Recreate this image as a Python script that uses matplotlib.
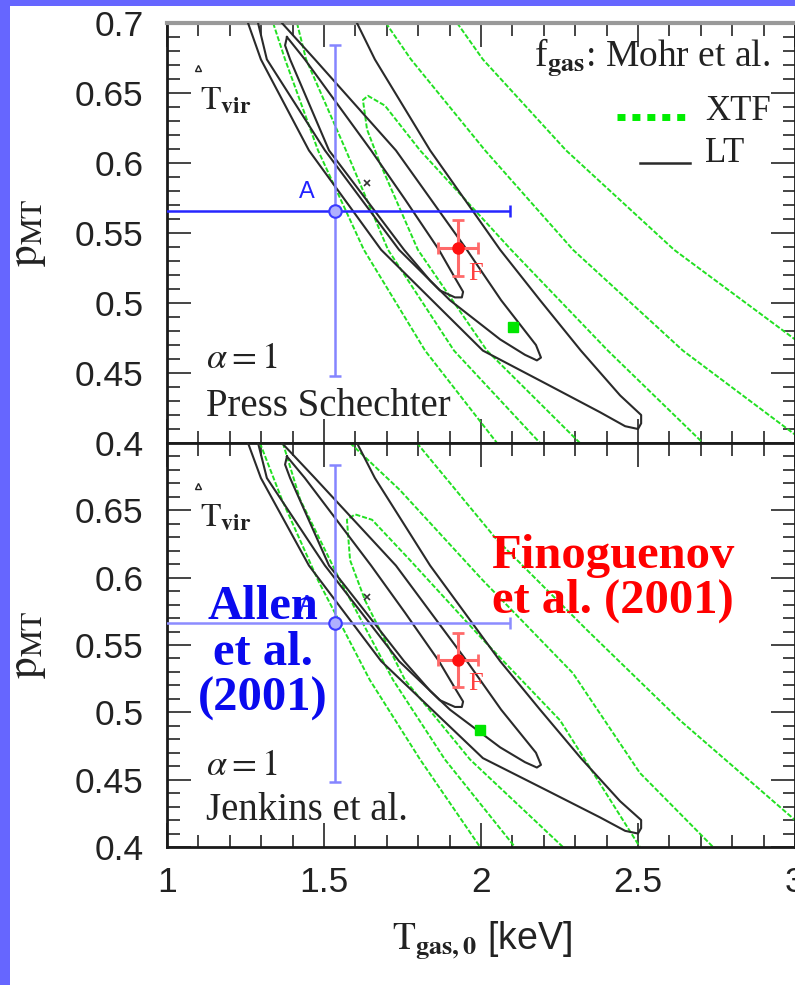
import matplotlib
matplotlib.use("Agg")
import matplotlib.pyplot as plt
from matplotlib.ticker import FixedLocator, FixedFormatter, MultipleLocator
from matplotlib.patches import Rectangle

plt.rcParams["mathtext.fontset"] = "stix"
plt.rcParams["font.family"] = ["Liberation Sans", "DejaVu Sans"]

# ---------------------------------------------------------------------------
# data  (T_gas,0 in keV, p_MT)
# ---------------------------------------------------------------------------
x_ticks = [1.0, 1.5, 2.0, 2.5, 3.0]
x_labels = ["1", "1.5", "2", "2.5", "3"]
y_ticks = [0.4, 0.45, 0.5, 0.55, 0.6, 0.65, 0.7]
y_labels_top = ["0.4", "0.45", "0.5", "0.55", "0.6", "0.65", "0.7"]
y_labels_bot = ["0.4", "0.45", "0.5", "0.55", "0.6", "0.65", ""]

# LT likelihood contours (same in both panels)
lt_outer_T = [1.258, 1.299, 1.452, 1.682, 1.844, 2.006, 2.210, 2.379, 2.459, 2.500,
              2.510, 2.510, 2.443, 2.318, 2.188, 2.061, 1.838, 1.662, 1.605]
lt_outer_p = [0.700, 0.674, 0.609, 0.538, 0.502, 0.466, 0.442, 0.422, 0.412, 0.410,
              0.414, 0.420, 0.434, 0.466, 0.502, 0.538, 0.609, 0.674, 0.700]
lt_mid_T = [1.290, 1.318, 1.503, 1.739, 1.901, 2.061, 2.140, 2.178, 2.191, 2.175,
            2.064, 1.955, 1.729, 1.471, 1.366]
lt_mid_p = [0.700, 0.674, 0.609, 0.538, 0.502, 0.474, 0.463, 0.459, 0.461, 0.470,
            0.502, 0.538, 0.609, 0.674, 0.700]
lt_inner_T = [1.382, 1.439, 1.650, 1.758, 1.866, 1.917, 1.943, 1.939, 1.917, 1.869,
              1.838, 1.755, 1.634, 1.516, 1.392, 1.376, 1.382]
lt_inner_p = [0.690, 0.674, 0.609, 0.574, 0.538, 0.518, 0.508, 0.504, 0.504, 0.509,
              0.516, 0.538, 0.574, 0.609, 0.674, 0.684, 0.690]

# XTF contours, Press-Schechter panel
ps_xtf1_T = [1.338, 1.376, 1.481, 1.627, 1.822, 2.051]
ps_xtf1_p = [0.700, 0.674, 0.609, 0.538, 0.466, 0.400]
ps_xtf2_T = [1.414, 1.443, 1.570, 1.704, 1.914, 2.188]
ps_xtf2_p = [0.700, 0.674, 0.609, 0.538, 0.466, 0.400]
ps_xtf3_T = [2.315, 2.019, 1.799, 1.678, 1.637, 1.624, 1.640, 1.694, 1.806, 2.096, 2.404, 2.707]
ps_xtf3_p = [0.400, 0.466, 0.538, 0.600, 0.624, 0.645, 0.648, 0.641, 0.609, 0.538, 0.466, 0.400]
ps_xtf4_T = [1.697, 1.777, 2.013, 2.293, 2.643, 3.000]
ps_xtf4_p = [0.700, 0.674, 0.609, 0.538, 0.466, 0.406]
ps_xtf5_T = [1.924, 2.006, 2.271, 2.615, 3.000]
ps_xtf5_p = [0.700, 0.674, 0.609, 0.538, 0.474]

# XTF contours, Jenkins panel
jk_xtf1_T = [1.296, 1.366, 1.481, 1.646, 1.806, 1.997]
jk_xtf1_p = [0.700, 0.658, 0.598, 0.524, 0.465, 0.400]
jk_xtf2_T = [1.369, 1.424, 1.551, 1.720, 1.885, 2.108]
jk_xtf2_p = [0.700, 0.658, 0.598, 0.524, 0.465, 0.400]
jk_xtf3_T = [2.261, 1.965, 1.758, 1.631, 1.583, 1.573, 1.599, 1.653, 1.774, 2.006, 2.252, 2.506]
jk_xtf3_p = [0.400, 0.465, 0.524, 0.583, 0.613, 0.643, 0.647, 0.643, 0.613, 0.554, 0.494, 0.400]
jk_xtf4_T = [1.583, 1.742, 2.006, 2.293, 2.506, 2.739]
jk_xtf4_p = [0.700, 0.665, 0.598, 0.529, 0.455, 0.400]
jk_xtf5_T = [1.796, 2.051, 2.338, 2.634, 3.000]
jk_xtf5_p = [0.700, 0.628, 0.561, 0.494, 0.420]

# points
allen_T, allen_p, allen_dT, allen_dp = 1.535, 0.566, 0.557, 0.118
fino_T, fino_p, fino_dT, fino_dp = 1.927, 0.539, 0.064, 0.020
best_T, best_p = 1.637, 0.586          # LT best fit (x)
tvir_T, tvir_p = 1.099, 0.668          # virial temperature
ps_xtf_best = (2.102, 0.483)
jk_xtf_best = (1.997, 0.487)

# ---------------------------------------------------------------------------
W, H = 795, 985
fig = plt.figure(figsize=(W / 100, H / 100), dpi=100)
fig.patch.set_facecolor("white")

def box(x0, y0, x1, y1):
    return [x0 / W, 1 - y1 / H, (x1 - x0) / W, (y1 - y0) / H]

ax_top = fig.add_axes(box(167, 23, 795, 443))
ax_bot = fig.add_axes(box(167, 443, 795, 847))

GREEN = "#22e022"
BLACK = "#2a2a2a"
SERIF = ["Liberation Serif", "DejaVu Serif"]


def frame(ax, ylabels, xlab):
    ax.set_xlim(1, 3)
    ax.set_ylim(0.4, 0.7)
    ax.xaxis.set_major_locator(FixedLocator(x_ticks))
    ax.xaxis.set_major_formatter(FixedFormatter(x_labels))
    ax.xaxis.set_minor_locator(MultipleLocator(0.1))
    ax.yaxis.set_major_locator(FixedLocator(y_ticks))
    ax.yaxis.set_major_formatter(FixedFormatter(ylabels))
    ax.yaxis.set_minor_locator(MultipleLocator(0.01))
    ax.tick_params(which="both", direction="in", top=True, right=True,
                   color="#444444", width=1.4, labelcolor="#222222")
    ax.tick_params(which="major", length=17)
    ax.tick_params(which="minor", length=9)
    ax.tick_params(axis="y", labelsize=25.5, pad=17)
    ax.tick_params(axis="x", labelsize=25.5, pad=14, labelbottom=xlab)
    for s in ax.spines.values():
        s.set_linewidth(2.0)
        s.set_color("#1a1a1a")


def contours(ax, xtf):
    for T, p in xtf:
        ax.plot(T, p, color=GREEN, lw=1.4, ls=(0, (2.6, 1.0)), zorder=2)
    for T, p in [(lt_outer_T, lt_outer_p), (lt_mid_T, lt_mid_p), (lt_inner_T, lt_inner_p)]:
        ax.plot(T, p, color=BLACK, lw=1.5, zorder=3)


def points(ax, xtf_best, hbar_color):
    ax.errorbar([allen_T], [allen_p], xerr=[allen_dT], fmt="none", ecolor=hbar_color,
                elinewidth=1.8, capsize=4.5, capthick=1.8, zorder=5)
    ax.errorbar([allen_T], [allen_p], yerr=[allen_dp], fmt="none", ecolor="#8585ff",
                elinewidth=1.8, capsize=4.5, capthick=1.8, zorder=5)
    ax.plot([allen_T], [allen_p], "o", ms=9, mfc="#b0b0ff", mec="#3b3bff", mew=1.5, zorder=6)
    ax.errorbar([fino_T], [fino_p], xerr=[fino_dT], yerr=[fino_dp], fmt="o", ms=8,
                color="#ff1010", ecolor="#ff6a6a", elinewidth=2.2, capsize=4,
                capthick=2, zorder=6)
    ax.plot([xtf_best[0]], [xtf_best[1]], "s", ms=6.5, color="#00e600", mec="#00e600", zorder=6)
    ax.plot([best_T], [best_p], "x", ms=4, mew=1.2, color="#333333", zorder=6)
    ax.plot([tvir_T], [tvir_p], "^", ms=5, mfc="white", mec="#222222", mew=1.0, zorder=6)
    ax.text(allen_T - 0.09, allen_p + 0.013, "A", color="#2222ff", fontsize=17,
            ha="center", va="center", zorder=7)
    ax.text(fino_T + 0.057, fino_p - 0.018, "F", color="#ff4040", fontsize=19,
            family=SERIF, ha="center", va="center", zorder=7)
    ax.text(0.053, 0.793, r"$\mathrm{T}_{\mathbf{vir}}$", transform=ax.transAxes,
            fontsize=24, color="#222222", ha="left", va="baseline")
    ax.text(0.062, 0.178, r"$\alpha=1$", transform=ax.transAxes, fontsize=26,
            color="#222222", ha="left", va="baseline")


# top panel ---------------------------------------------------------------
frame(ax_top, y_labels_top, False)
ax_top.spines["top"].set_color("#999999")
ax_top.spines["top"].set_linewidth(3.0)
contours(ax_top, [(ps_xtf1_T, ps_xtf1_p), (ps_xtf2_T, ps_xtf2_p), (ps_xtf3_T, ps_xtf3_p),
                  (ps_xtf4_T, ps_xtf4_p), (ps_xtf5_T, ps_xtf5_p)])
points(ax_top, ps_xtf_best, "#2626ff")
ax_top.text(0.062, 0.064, "Press Schechter", transform=ax_top.transAxes, fontsize=28,
            family=SERIF, color="#222222", ha="left", va="baseline")
ax_top.text(0.960, 0.898, r"f$_{\mathbf{gas}}$: Mohr et al.", transform=ax_top.transAxes,
            fontsize=27, family=SERIF, color="#222222", ha="right", va="baseline")
ax_top.plot([0.717, 0.825], [0.776, 0.776], transform=ax_top.transAxes, color="#00ee00",
            lw=5, ls=(0, (1.15, 1.0)), solid_capstyle="butt")
ax_top.text(0.857, 0.790, "XTF", transform=ax_top.transAxes, fontsize=25, family=SERIF,
            color="#222222", ha="left", va="center")
ax_top.plot([0.753, 0.833], [0.667, 0.667], transform=ax_top.transAxes, color=BLACK, lw=1.8)
ax_top.text(0.857, 0.690, "LT", transform=ax_top.transAxes, fontsize=25, family=SERIF,
            color="#222222", ha="left", va="center")

# bottom panel ------------------------------------------------------------
frame(ax_bot, y_labels_bot, True)
contours(ax_bot, [(jk_xtf1_T, jk_xtf1_p), (jk_xtf2_T, jk_xtf2_p), (jk_xtf3_T, jk_xtf3_p),
                  (jk_xtf4_T, jk_xtf4_p), (jk_xtf5_T, jk_xtf5_p)])
points(ax_bot, jk_xtf_best, "#8c8cff")
ax_bot.text(0.062, 0.067, "Jenkins et al.", transform=ax_bot.transAxes, fontsize=28,
            family=SERIF, color="#222222", ha="left", va="baseline")
ax_bot.text(0.153, 0.48, "Allen\net al.\n(2001)", transform=ax_bot.transAxes,
            fontsize=35, family=SERIF, fontweight="bold", color="#0a0aee",
            ha="center", va="center", linespacing=1.05, multialignment="center", zorder=8)
ax_bot.text(0.71, 0.665, "Finoguenov\net al. (2001)", transform=ax_bot.transAxes,
            fontsize=35, family=SERIF, fontweight="bold", color="#ff0000",
            ha="center", va="center", linespacing=1.0, multialignment="center", zorder=8)

# axis labels --------------------------------------------------------------
for yc in (233, 645):
    fig.text(28 / W, 1 - yc / H, r"$\mathrm{p}_{\mathrm{MT}}$", rotation=90, fontsize=31,
             color="#222222", ha="center", va="center")
fig.text(482 / W, 1 - 940 / H, r"$\mathrm{T}_{\mathbf{gas,0}}$ [keV]", fontsize=27,
         color="#222222", ha="center", va="center")

# slide border -------------------------------------------------------------
fig.add_artist(Rectangle((0, 0), 10 / W, 1, transform=fig.transFigure,
                         color="#6666ff", lw=0, zorder=10))
fig.add_artist(Rectangle((0, 1 - 6 / H), 1, 6 / H, transform=fig.transFigure,
                         color="#6666ff", lw=0, zorder=10))

fig.savefig("out.png", dpi=100, facecolor="white")
